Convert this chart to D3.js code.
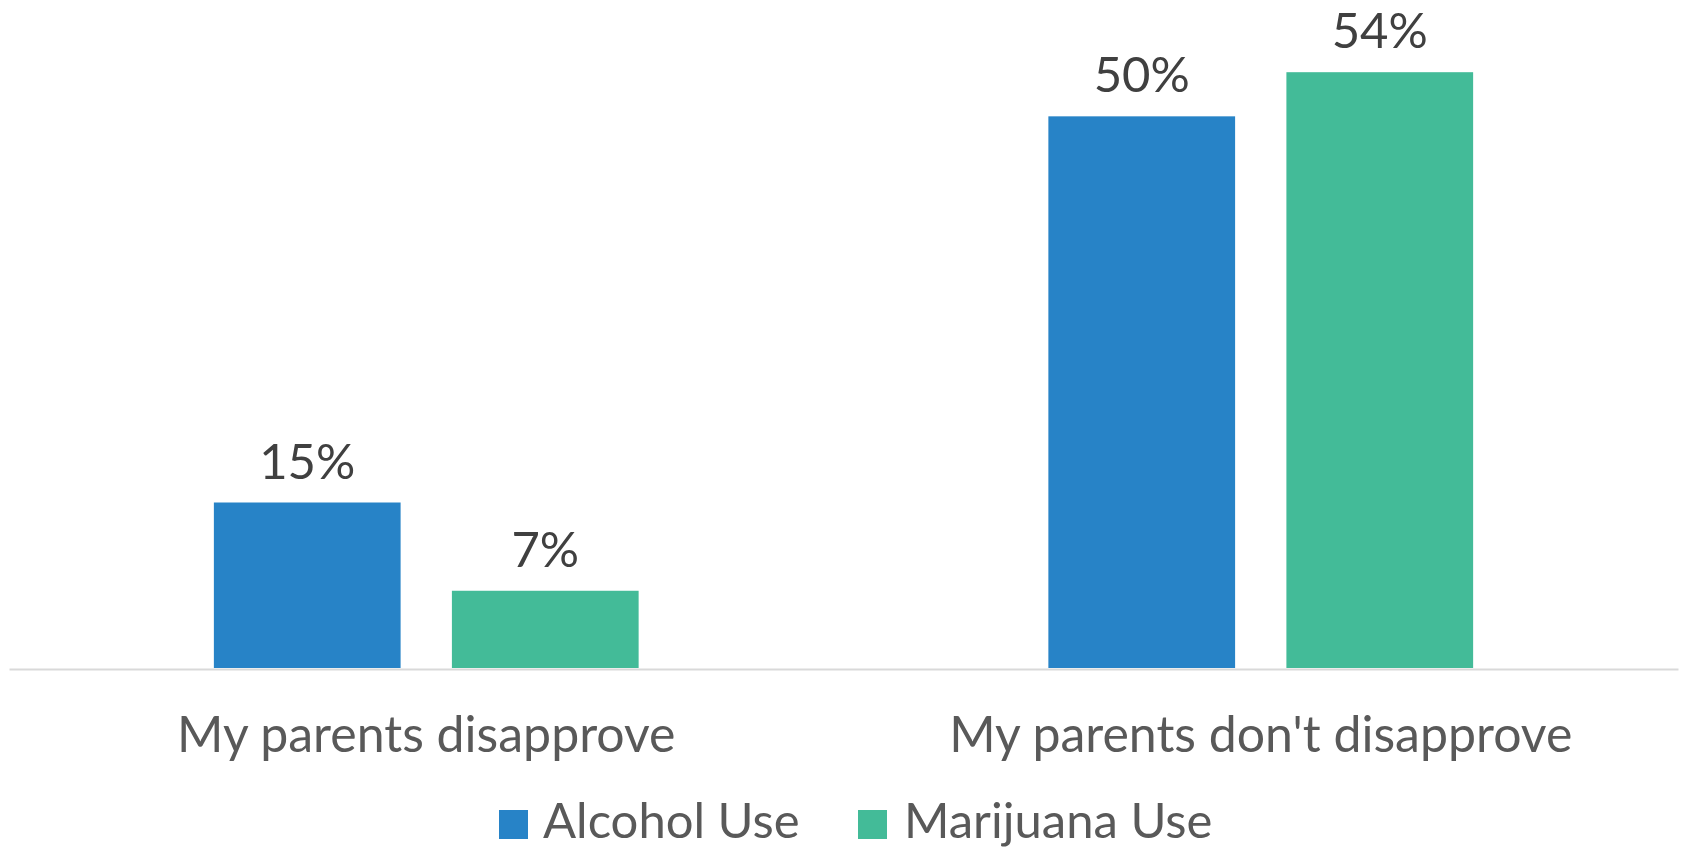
<!DOCTYPE html>
<html>
<head>
<meta charset="utf-8">
<script src="https://cdn.jsdelivr.net/npm/d3@7"></script>
<style>
  html, body { margin: 0; padding: 0; background: #ffffff; }
  svg { display: block; }
  text { font-family: Lato, "Open Sans", sans-serif; }
</style>
</head>
<body>
<svg id="chart" width="1686" height="848"></svg>
<script>
// Share of students who used each substance, by perceived parental attitude
const categories = ["My parents disapprove", "My parents don't disapprove"];
const seriesNames = ["Alcohol Use", "Marijuana Use"];
const alcoholUse = [0.15, 0.50];
const marijuanaUse = [0.07, 0.54];
const seriesColors = ["#2783C7", "#43BB98"];

const seriesValues = [alcoholUse, marijuanaUse];

const W = 1686, H = 848;
const plot = { left: 9, right: 1678, top: 6, bottom: 668 };

const svg = d3.select("#chart");

const y = d3.scaleLinear().domain([0, 0.6]).range([plot.bottom, plot.top]);

const x0 = d3.scaleBand().domain(categories).range([plot.left, plot.right]).padding(0);

// Each category holds a cluster of two bars centred in its slot
const clusterWidth = x0.bandwidth() * 0.509;
const x1 = d3.scaleBand()
  .domain(seriesNames)
  .range([(x0.bandwidth() - clusterWidth) / 2, (x0.bandwidth() + clusterWidth) / 2])
  .paddingInner(0.2155)
  .paddingOuter(0);

const groups = svg.append("g").selectAll("g")
  .data(categories)
  .join("g")
  .attr("transform", d => `translate(${x0(d)},0)`);

const bars = groups.selectAll("g.bar")
  .data((c, i) => seriesNames.map((s, j) => ({ series: s, value: seriesValues[j][i], color: seriesColors[j] })))
  .join("g")
  .attr("class", "bar");

bars.append("rect")
  .attr("x", d => x1(d.series))
  .attr("y", d => y(d.value))
  .attr("width", x1.bandwidth())
  .attr("height", d => y(0) - y(d.value))
  .attr("fill", d => d.color);

bars.append("text")
  .attr("x", d => x1(d.series) + x1.bandwidth() / 2)
  .attr("y", d => y(d.value) - 24)
  .attr("text-anchor", "middle")
  .attr("font-size", 49)
  .attr("fill", "#404040")
  .text(d => d3.format(".0%")(d.value));

// Category axis: baseline line and labels
const xAxis = d3.axisBottom(x0).tickSize(0).tickPadding(0);
const axisG = svg.append("g")
  .attr("transform", `translate(0,${plot.bottom + 1})`)
  .call(xAxis);
axisG.select(".domain")
  .attr("stroke", "#D9D9D9")
  .attr("stroke-width", 2);
axisG.selectAll(".tick text")
  .attr("font-family", "Lato, 'Open Sans', sans-serif")
  .attr("font-size", 50)
  .attr("fill", "#595959")
  .attr("dy", null)
  .attr("y", 752 - (plot.bottom + 1));

// Legend
const legendItems = [
  { name: seriesNames[0], color: seriesColors[0], sx: 499, tx: 543 },
  { name: seriesNames[1], color: seriesColors[1], sx: 858, tx: 904 }
];
const legend = svg.append("g");
const li = legend.selectAll("g").data(legendItems).join("g");
li.append("rect")
  .attr("x", d => d.sx)
  .attr("y", 810)
  .attr("width", 29)
  .attr("height", 29)
  .attr("fill", d => d.color);
li.append("text")
  .attr("x", d => d.tx)
  .attr("y", 838)
  .attr("font-size", 49)
  .attr("fill", "#595959")
  .text(d => d.name);
</script>
</body>
</html>
